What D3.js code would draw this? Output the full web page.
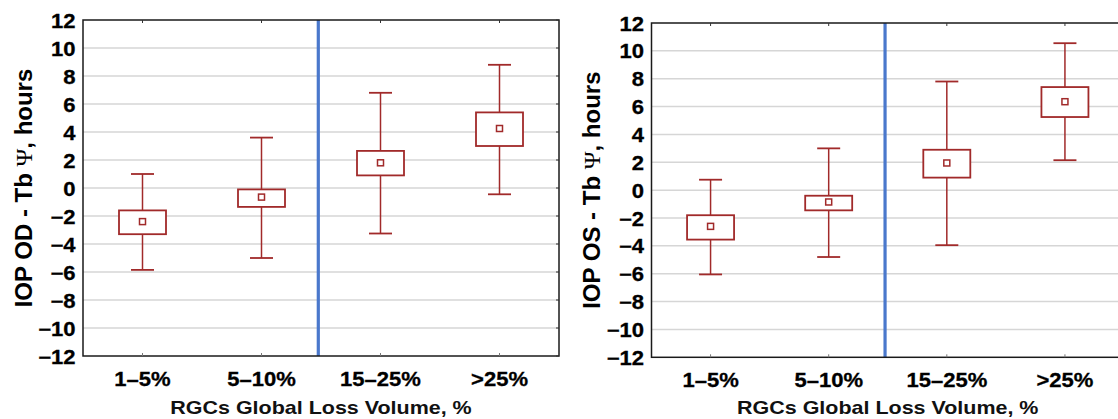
<!DOCTYPE html>
<html>
<head>
<meta charset="utf-8">
<script src="https://cdn.jsdelivr.net/npm/d3@7"></script>
<style>
  html, body { margin: 0; padding: 0; background: #fff; }
  svg { display: block; font-family: "Liberation Sans", Arial, sans-serif; }
</style>
</head>
<body>
<svg id="chart" width="1118" height="419"></svg>
<script>
// ---- data ----
const categories = ["1–5%", "5–10%", "15–25%", ">25%"];
const yTickValues = [-12, -10, -8, -6, -4, -2, 0, 2, 4, 6, 8, 10, 12];

// Left panel: IOP OD
const odMean      = [-2.4, -0.65, 1.8, 4.25];
const odBoxLow    = [-3.3, -1.35, 0.9, 3.0];
const odBoxHigh   = [-1.6, -0.1, 2.65, 5.4];
const odWhiskLow  = [-5.85, -5.0, -3.25, -0.45];
const odWhiskHigh = [1.0, 3.6, 6.8, 8.8];

// Right panel: IOP OS
const osMean      = [-2.6, -0.85, 1.95, 6.35];
const osBoxLow    = [-3.55, -1.45, 0.9, 5.25];
const osBoxHigh   = [-1.8, -0.4, 2.9, 7.4];
const osWhiskLow  = [-6.05, -4.8, -3.95, 2.15];
const osWhiskHigh = [0.75, 3.0, 7.8, 10.55];

const xTitle = "RGCs Global Loss Volume, %";

// ---- styles ----
const boxColor = "#a12a2a";
const gridColor = "#d6d6d6";
const dividerColor = "#4a78cc";
const sx = 1.13; // horizontal stretch of the reference lettering
const tickFont = 19.5;

const svg = d3.select("#chart");
svg.append("rect").attr("width", 1118).attr("height", 419).attr("fill", "#fff");

function panel(cfg) {
  const x = d3.scaleBand().domain(categories).range([cfg.left, cfg.right]).padding(0);
  const y = d3.scaleLinear().domain([-12, 12]).range([cfg.bottom, cfg.top]);
  const g = svg.append("g");

  // gridlines
  g.append("g").selectAll("line")
    .data(yTickValues.filter(v => v > -12 && v < 12))
    .join("line")
    .attr("x1", cfg.left).attr("x2", cfg.right)
    .attr("y1", d => y(d)).attr("y2", d => y(d))
    .attr("stroke", gridColor).attr("stroke-width", 1.5);

  // divider between 5–10% and 15–25%
  const divX = x(categories[2]) - 2.7;
  g.append("line")
    .attr("x1", divX).attr("x2", divX)
    .attr("y1", cfg.top).attr("y2", cfg.bottom)
    .attr("stroke", dividerColor).attr("stroke-width", 3.2);

  // frame
  g.append("rect")
    .attr("x", cfg.left).attr("y", cfg.top)
    .attr("width", cfg.right - cfg.left).attr("height", cfg.bottom - cfg.top)
    .attr("fill", "none").attr("stroke", "#1a1a1a").attr("stroke-width", 1.5);

  // small inward ticks: top / bottom at categories, right at y ticks
  const cx = d => x(d) + x.bandwidth() / 2;
  g.append("g").selectAll("line").data(categories).join("line")
    .attr("x1", cx).attr("x2", cx)
    .attr("y1", cfg.top).attr("y2", cfg.top + 3)
    .attr("stroke", "#333").attr("stroke-width", 1);
  g.append("g").selectAll("line").data(categories).join("line")
    .attr("x1", cx).attr("x2", cx)
    .attr("y1", cfg.bottom).attr("y2", cfg.bottom - 3)
    .attr("stroke", "#777").attr("stroke-width", 1);
  g.append("g").selectAll("line").data(yTickValues).join("line")
    .attr("x1", cfg.right).attr("x2", cfg.right - 3)
    .attr("y1", d => y(d)).attr("y2", d => y(d))
    .attr("stroke", "#333").attr("stroke-width", 1);

  // y axis
  const yAxis = g.append("g")
    .attr("transform", `translate(${cfg.left},0)`)
    .call(d3.axisLeft(y).tickValues(yTickValues).tickSize(0).tickPadding(0).tickFormat(d3.format("d")));
  yAxis.select(".domain").remove();
  yAxis.selectAll("text")
    .attr("x", -7.5 / sx)
    .attr("transform", `scale(${sx},1)`)
    .attr("font-size", tickFont).attr("font-weight", "bold")
    .attr("font-family", "Liberation Sans, Arial, sans-serif")
    .attr("fill", "#000")
    .attr("stroke", "#000").attr("stroke-width", 0.3)
    .attr("dy", "0.36em");

  // x axis
  const xAxis = g.append("g")
    .attr("transform", `translate(0,${cfg.bottom})`)
    .call(d3.axisBottom(x).tickSize(0).tickPadding(16));
  xAxis.select(".domain").remove();
  xAxis.selectAll("text")
    .attr("transform", `scale(${sx},1)`)
    .attr("x", function () { return 0; })
    .attr("font-size", tickFont).attr("font-weight", "bold")
    .attr("font-family", "Liberation Sans, Arial, sans-serif")
    .attr("fill", "#000")
    .attr("stroke", "#000").attr("stroke-width", 0.3);

  // whiskers
  const marks = g.append("g").attr("stroke", boxColor).attr("fill", "none");
  const idx = d3.range(categories.length);
  const capW = 23, boxW = 47, mW = 6;
  marks.selectAll("line.stem").data(idx).join("line").attr("class", "stem")
    .attr("x1", i => cx(categories[i])).attr("x2", i => cx(categories[i]))
    .attr("y1", i => y(cfg.whiskHigh[i])).attr("y2", i => y(cfg.whiskLow[i]))
    .attr("stroke-width", 1.5);
  marks.selectAll("line.capHi").data(idx).join("line").attr("class", "capHi")
    .attr("x1", i => cx(categories[i]) - capW / 2).attr("x2", i => cx(categories[i]) + capW / 2)
    .attr("y1", i => y(cfg.whiskHigh[i])).attr("y2", i => y(cfg.whiskHigh[i]))
    .attr("stroke-width", 1.8);
  marks.selectAll("line.capLo").data(idx).join("line").attr("class", "capLo")
    .attr("x1", i => cx(categories[i]) - capW / 2).attr("x2", i => cx(categories[i]) + capW / 2)
    .attr("y1", i => y(cfg.whiskLow[i])).attr("y2", i => y(cfg.whiskLow[i]))
    .attr("stroke-width", 1.8);
  // boxes
  marks.selectAll("rect.box").data(idx).join("rect").attr("class", "box")
    .attr("x", i => cx(categories[i]) - boxW / 2)
    .attr("width", boxW)
    .attr("y", i => y(cfg.boxHigh[i]))
    .attr("height", i => y(cfg.boxLow[i]) - y(cfg.boxHigh[i]))
    .attr("fill", "#fff").attr("stroke-width", 1.8);
  // mean markers
  marks.selectAll("rect.mean").data(idx).join("rect").attr("class", "mean")
    .attr("x", i => cx(categories[i]) - mW / 2)
    .attr("y", i => y(cfg.mean[i]) - mW / 2)
    .attr("width", mW).attr("height", mW)
    .attr("fill", "#fff").attr("stroke-width", 1.5);

  // y title
  const yt = svg.append("text")
    .attr("transform", `translate(${cfg.yTitleX},${(cfg.top + cfg.bottom) / 2}) rotate(-90)`)
    .attr("text-anchor", "middle")
    .attr("dy", "0.35em")
    .attr("font-size", 24).attr("font-weight", "bold")
    .attr("font-family", "Liberation Sans, Arial, sans-serif")
    .attr("fill", "#000");
  yt.append("tspan").text(cfg.yTitlePre);
  yt.append("tspan").text("Ψ")
    .attr("font-family", "Liberation Serif, Times New Roman, serif")
    .attr("font-weight", "normal");
  yt.append("tspan").text(cfg.yTitlePost);

  // x title
  svg.append("text")
    .attr("transform", `translate(${(cfg.left + cfg.right) / 2},${cfg.xTitleY}) scale(${sx},1)`)
    .attr("text-anchor", "middle")
    .attr("font-size", 19).attr("font-weight", "bold")
    .attr("font-family", "Liberation Sans, Arial, sans-serif")
    .attr("fill", "#111")
    .text(xTitle);
}

panel({
  left: 83, right: 559, top: 20, bottom: 356,
  mean: odMean, boxLow: odBoxLow, boxHigh: odBoxHigh, whiskLow: odWhiskLow, whiskHigh: odWhiskHigh,
  yTitleX: 24, yTitlePre: "IOP OD - Tb ", yTitlePost: ", hours", xTitleY: 414
});
panel({
  left: 651.5, right: 1124, top: 23, bottom: 357.3,
  mean: osMean, boxLow: osBoxLow, boxHigh: osBoxHigh, whiskLow: osWhiskLow, whiskHigh: osWhiskHigh,
  yTitleX: 592, yTitlePre: "IOP OS - Tb ", yTitlePost: ", hours", xTitleY: 414
});
</script>
</body>
</html>
